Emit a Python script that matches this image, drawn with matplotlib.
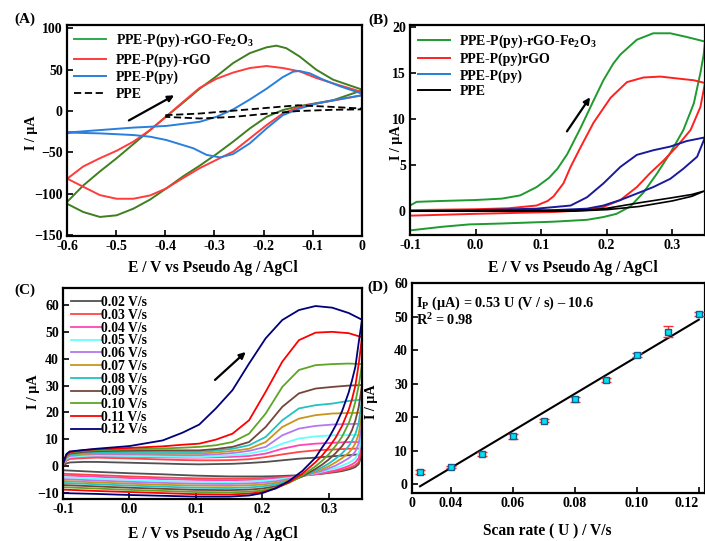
import numpy as np
import matplotlib
matplotlib.use('Agg')
import matplotlib.pyplot as plt
from matplotlib.lines import Line2D

plt.rcParams['font.family'] = 'serif'
plt.rcParams['font.serif'] = ['Liberation Serif', 'DejaVu Serif']
plt.rcParams['font.weight'] = 'bold'
plt.rcParams['axes.labelweight'] = 'bold'
plt.rcParams['mathtext.fontset'] = 'custom'
plt.rcParams['mathtext.rm'] = 'Liberation Serif:bold'
plt.rcParams['mathtext.bf'] = 'Liberation Serif:bold'
plt.rcParams['mathtext.it'] = 'Liberation Serif:bold:italic'

# ---------------- (A) CV, -0.6 .. 0 V ----------------
a_green_fwd_E = [-0.6, -0.567, -0.533, -0.499, -0.465, -0.431, -0.398, -0.364, -0.33, -0.296,
                 -0.262, -0.228, -0.194, -0.174, -0.154, -0.127, -0.093, -0.059, -0.025, 0.0]
a_green_fwd_I = [-110, -90, -73, -57, -40, -23, -6.5, 10, 27, 42,
                 58, 70, 77, 79, 76, 66, 50, 38, 31, 26]
a_green_rev_E = [0.0, -0.059, -0.127, -0.161, -0.194, -0.228, -0.262, -0.296, -0.33, -0.364,
                 -0.398, -0.431, -0.465, -0.499, -0.533, -0.567, -0.6]
a_green_rev_I = [25, 13, 6, 1.2, -7, -21, -37, -52, -66, -79,
                 -93.5, -107, -118, -126, -128, -122, -112]

a_red_fwd_E = [-0.6, -0.567, -0.533, -0.499, -0.465, -0.431, -0.398, -0.364, -0.33, -0.296,
               -0.262, -0.228, -0.194, -0.161, -0.127, -0.093, -0.059, -0.025, 0.0]
a_red_fwd_I = [-82, -67, -57, -48, -37, -23, -6.5, 11, 28, 39,
               46.5, 52, 54.4, 52, 48, 40, 33.5, 27.5, 23]
a_red_rev_E = [0.0, -0.093, -0.127, -0.161, -0.194, -0.228, -0.262, -0.296, -0.33, -0.364,
               -0.398, -0.431, -0.465, -0.499, -0.533, -0.567, -0.6]
a_red_rev_I = [19, 9, 5, -3, -17, -33, -49, -59, -69, -81,
               -93.5, -102, -106, -106, -101.6, -91.5, -81.5]

a_blue_fwd_E = [-0.6, -0.533, -0.465, -0.398, -0.33, -0.296, -0.262, -0.228, -0.194, -0.161,
                -0.140, -0.127, -0.106, -0.079, -0.045, 0.0]
a_blue_fwd_I = [-26, -23, -20, -18, -13, -7, 2, 14, 27, 41,
                47.6, 48.4, 45.6, 38, 30, 21]
a_blue_rev_E = [0.0, -0.059, -0.093, -0.127, -0.161, -0.194, -0.228, -0.262, -0.289, -0.316,
                -0.343, -0.398, -0.431, -0.465, -0.533, -0.6]
a_blue_rev_I = [19, 13, 9, 3, -5, -21, -39, -52, -56, -53,
                -45, -35, -31, -29, -27, -26]

a_ppe_E = [-0.4, -0.33, -0.26, -0.19, -0.13, -0.06, 0.0, 0.0, -0.06, -0.13, -0.19, -0.26, -0.33, -0.4]
a_ppe_I = [-5, -3, 0.5, 4, 7, 5, 3, 2, 1.5, 0, -3, -7, -9, -7]

a_arrow = [(-0.479, -13), (-0.377, 20.6)]

# ---------------- (B) CV, -0.1 .. 0.35 V ----------------
b_green_E = [-0.1, -0.09, -0.05, 0.0, 0.04, 0.068, 0.093, 0.112, 0.125, 0.14,
             0.16, 0.18, 0.195, 0.21, 0.221, 0.246, 0.271, 0.297, 0.322, 0.35,
             0.348, 0.343, 0.333, 0.317, 0.297, 0.277, 0.256, 0.236, 0.215, 0.195,
             0.17, 0.12, 0.04, -0.01, -0.05, -0.1]
b_green_I = [0.6, 1.0, 1.1, 1.2, 1.35, 1.7, 2.6, 3.6, 4.6, 6.2,
             9.0, 12.0, 14.2, 16.0, 17.0, 18.6, 19.3, 19.3, 18.9, 18.4,
             17.0, 15.0, 11.7, 8.8, 6.3, 4.1, 2.0, 0.5, -0.3, -0.65,
             -0.95, -1.15, -1.35, -1.45, -1.7, -2.1]

b_red_E = [-0.1, -0.05, 0.0, 0.05, 0.093, 0.11, 0.119, 0.134, 0.145, 0.16,
           0.18, 0.206, 0.231, 0.256, 0.282, 0.307, 0.333, 0.35,
           0.343, 0.328, 0.307, 0.287, 0.266, 0.246, 0.221, 0.195, 0.17, 0.12,
           0.0, -0.1]
b_red_I = [0.1, 0.15, 0.2, 0.3, 0.6, 1.1, 1.6, 3.0, 4.8, 6.9,
           9.6, 12.3, 14.0, 14.5, 14.6, 14.4, 14.2, 13.9,
           11.3, 8.8, 7.0, 5.5, 4.1, 2.6, 1.2, 0.45, 0.1, -0.1,
           -0.3, -0.5]

b_blue_E = [-0.1, 0.0, 0.093, 0.145, 0.17, 0.195, 0.221, 0.246, 0.271, 0.297, 0.322, 0.35,
            0.338, 0.317, 0.297, 0.271, 0.246, 0.221, 0.195, 0.17, 0.119, 0.0, -0.1]
b_blue_I = [0.0, 0.1, 0.26, 0.6, 1.5, 3.0, 4.8, 6.1, 6.6, 7.0, 7.6, 8.0,
            5.9, 4.6, 3.5, 2.6, 1.9, 1.2, 0.6, 0.26, 0.1, 0.0, 0.0]

b_ppe_E = [-0.1, 0.1, 0.17, 0.2, 0.25, 0.3, 0.33, 0.35, 0.33, 0.3, 0.25, 0.2, 0.15, -0.1]
b_ppe_I = [0.0, 0.05, 0.1, 0.3, 0.9, 1.45, 1.8, 2.2, 1.6, 1.1, 0.5, 0.15, 0.0, 0.0]

b_arrow = [(0.137, 8.4), (0.177, 12.6)]

# ---------------- (C) scan-rate CVs ----------------
c_rates = ['0.02 V/s', '0.03 V/s', '0.04 V/s', '0.05 V/s', '0.06 V/s', '0.07 V/s',
           '0.08 V/s', '0.09 V/s', '0.10 V/s', '0.11 V/s', '0.12 V/s']
c_colors = ['#505050', '#ff4545', '#ff45b5', '#66ffff', '#b478f0', '#c8961a',
            '#22c2c2', '#74463a', '#5ea524', '#ff0000', '#00007a']

c_E_fwd = [-0.1, -0.095, -0.09, -0.07, -0.05, 0.0, 0.05, 0.08, 0.105, 0.13,
           0.155, 0.18, 0.205, 0.23, 0.255, 0.28, 0.305, 0.33, 0.35]
c_E_rev = [0.35, 0.345, 0.34, 0.335, 0.33, 0.32, 0.31, 0.30, 0.29, 0.28,
           0.26, 0.24, 0.22, 0.20, 0.18, 0.15, 0.10, 0.05, 0.0, -0.05, -0.1]

c_I_fwd = [
    [0.3, 1.0, 1.4, 1.6, 1.6, 1.3, 1.0, 0.8, 0.7, 0.8, 0.9, 1.2, 1.6, 2.2, 2.8, 3.2, 3.7, 4.1, 4.5],
    [0.5, 2.0, 2.7, 3.0, 3.2, 2.9, 2.5, 2.3, 2.2, 2.2, 2.3, 2.6, 3.4, 4.4, 5.3, 5.9, 6.2, 6.5, 6.6],
    [0.6, 2.4, 3.1, 3.5, 3.7, 3.5, 3.3, 3.2, 3.2, 3.3, 3.5, 3.8, 4.7, 6.5, 7.8, 8.4, 8.7, 9.0, 9.0],
    [0.7, 2.7, 3.4, 3.8, 4.0, 3.8, 3.6, 3.5, 3.4, 3.7, 4.1, 4.7, 5.9, 8.4, 10.3, 11.1, 11.5, 11.6, 11.7],
    [0.8, 3.0, 3.8, 4.3, 4.5, 4.4, 4.2, 4.1, 4.1, 4.4, 4.9, 5.7, 7.2, 11.5, 14.0, 15.0, 15.5, 15.7, 15.8],
    [1.0, 3.3, 4.1, 4.6, 4.8, 4.8, 4.7, 4.7, 4.7, 5.1, 5.7, 6.5, 9.0, 14.6, 17.7, 19.0, 19.6, 19.8, 19.9],
    [1.0, 3.5, 4.4, 4.9, 5.2, 5.3, 5.3, 5.3, 5.3, 5.8, 6.5, 7.8, 10.9, 17.1, 21.5, 22.7, 23.3, 24.3, 24.8],
    [1.0, 3.8, 4.7, 5.3, 5.6, 5.8, 5.9, 5.9, 5.9, 6.4, 7.2, 9.0, 14.6, 22.1, 27.1, 28.9, 29.5, 30.0, 30.2],
    [1.0, 4.0, 5.0, 5.7, 6.0, 6.3, 6.6, 6.9, 7.2, 7.8, 9.0, 12.1, 19.6, 29.5, 35.8, 37.6, 38.0, 38.2, 38.0],
    [1.0, 4.2, 5.2, 6.0, 6.3, 6.8, 7.4, 8.0, 8.4, 9.9, 12.1, 17.1, 27.7, 38.9, 46.9, 49.7, 50.0, 49.5, 48.0],
    [1.0, 4.5, 5.5, 6.0, 6.5, 7.5, 9.6, 12.5, 15.5, 21.5, 28.3, 38.2, 47.6, 54.4, 58.1, 59.6, 59.0, 57.0, 54.5],
]
c_I_rev = [
    [4.5, 0.8, -0.3, -0.8, -1.2, -1.8, -2.2, -2.5, -2.8, -3.0, -3.3, -3.5, -3.7, -3.8, -3.8, -3.8, -3.5, -3.0, -2.6, -2.1, -1.5],
    [6.6, 1.5, 0.4, -0.2, -0.7, -1.4, -1.9, -2.3, -2.7, -3.0, -3.5, -3.9, -4.2, -4.4, -4.5, -4.6, -4.5, -4.2, -3.8, -3.3, -2.8],
    [9.0, 3.0, 1.5, 0.7, 0.1, -0.8, -1.5, -2.0, -2.5, -2.9, -3.6, -4.2, -4.6, -4.9, -5.1, -5.2, -5.1, -4.8, -4.4, -3.9, -3.4],
    [11.7, 5.0, 3.0, 2.0, 1.3, 0.2, -0.7, -1.4, -2.0, -2.6, -3.6, -4.4, -5.0, -5.4, -5.7, -5.9, -5.8, -5.5, -5.1, -4.6, -4.1],
    [15.8, 8.5, 5.5, 4.0, 3.0, 1.5, 0.2, -0.8, -1.7, -2.4, -3.7, -4.8, -5.6, -6.1, -6.4, -6.6, -6.5, -6.2, -5.8, -5.3, -4.8],
    [19.9, 12.0, 8.5, 6.5, 5.0, 3.0, 1.4, 0.0, -1.1, -2.0, -3.8, -5.2, -6.2, -6.8, -7.1, -7.3, -7.2, -6.9, -6.5, -6.0, -5.5],
    [24.8, 16.0, 12.0, 9.5, 7.5, 4.8, 2.8, 1.0, -0.4, -1.6, -3.8, -5.6, -6.8, -7.5, -7.9, -8.1, -8.0, -7.6, -7.2, -6.7, -6.2],
    [30.2, 22.0, 17.0, 13.5, 11.0, 7.5, 4.8, 2.5, 0.6, -1.0, -3.8, -6.0, -7.5, -8.3, -8.7, -8.9, -8.8, -8.4, -8.0, -7.5, -7.0],
    [38.0, 30.0, 24.0, 19.5, 16.0, 11.0, 7.5, 4.5, 2.0, 0.0, -3.5, -6.2, -8.0, -9.0, -9.5, -9.7, -9.6, -9.2, -8.8, -8.3, -7.8],
    [48.0, 38.0, 30.0, 25.0, 21.0, 15.0, 10.5, 7.0, 4.0, 1.5, -2.8, -6.0, -8.3, -9.6, -10.2, -10.5, -10.4, -10.0, -9.6, -9.2, -8.7],
    [54.5, 46.0, 37.0, 32.0, 27.5, 20.5, 15.0, 10.5, 7.0, 3.2, -1.8, -5.5, -8.2, -10.0, -10.9, -11.3, -11.3, -11.0, -10.7, -10.3, -10.0],
]
c_arrow = [(0.1256, 31.4), (0.178, 43.2)]

# ---------------- (D) peak current vs scan rate ----------------
scan_rate = [0.03, 0.04, 0.05, 0.06, 0.07, 0.08, 0.09, 0.10, 0.11, 0.12]
peak_current = [3.6, 5.1, 9.0, 14.2, 18.9, 25.3, 31.2, 38.5, 45.5, 50.9]
peak_err = [0.5, 0.4, 0.5, 0.6, 0.5, 0.8, 0.6, 0.6, 1.6, 0.6]

XLAB = 'E / V vs Pseudo Ag / AgCl'
YLAB = 'I / μA'
TICK_FS = 10
LAB_FS = 11.2
YLAB_FS = 10.2
LEG_FS = 10


def style_axes(ax):
    for s in ax.spines.values():
        s.set_linewidth(1.6)
    ax.tick_params(direction='in', length=4, width=1.2, labelsize=TICK_FS, pad=3)


def draw_arrow(ax, pts):
    ax.annotate('', xy=pts[1], xytext=pts[0],
                arrowprops=dict(arrowstyle='-|>', color='black', lw=1.6, mutation_scale=9))


def panel_a(ax):
    ax.plot(a_green_fwd_E + a_green_rev_E, a_green_fwd_I + a_green_rev_I, color='#3f7f1f', lw=1.4)
    ax.plot(a_red_fwd_E + a_red_rev_E, a_red_fwd_I + a_red_rev_I, color='#ff3b3b', lw=1.4)
    ax.plot(a_blue_fwd_E + a_blue_rev_E, a_blue_fwd_I + a_blue_rev_I, color='#2a7fdc', lw=1.4)
    ax.plot(a_ppe_E, a_ppe_I, color='black', lw=1.3, ls=(0, (4, 2)))
    draw_arrow(ax, a_arrow)
    ax.set_xlim(-0.6, 0.0)
    ax.set_ylim(-151, 104)
    ax.set_xticks([-0.6, -0.5, -0.4, -0.3, -0.2, -0.1, 0.0])
    ax.set_xticklabels(['-0.6', '-0.5', '-0.4', '-0.3', '-0.2', '-0.1', '0'])
    ax.set_yticks([-150, -100, -50, 0, 50, 100])
    handles = [Line2D([], [], color='#2eaa4a', lw=1.4),
               Line2D([], [], color='#ff3b3b', lw=1.4),
               Line2D([], [], color='#2a7fdc', lw=1.4),
               Line2D([], [], color='black', lw=1.3, ls=(0, (4, 2)))]
    labels = ['PPE-P(py)-rGO-Fe$_\\mathbf{2}$O$_\\mathbf{3}$', 'PPE-P(py)-rGO', 'PPE-P(py)', 'PPE']
    ax.legend(handles, labels, loc='upper left', frameon=False, fontsize=LEG_FS,
              handlelength=2.3, handletextpad=0.7, labelspacing=0.28, borderaxespad=0.2,
              borderpad=0.3)
    ax.set_xlabel(XLAB, fontsize=LAB_FS)
    ax.set_ylabel(YLAB, fontsize=YLAB_FS)
    ax.xaxis.set_label_coords(0.495, -0.116)
    ax.yaxis.set_label_coords(-0.098, 0.49)


def panel_b(ax):
    ax.plot(b_green_E, b_green_I, color='#1e9a2e', lw=1.4)
    ax.plot(b_red_E, b_red_I, color='#ff2020', lw=1.4)
    ax.plot(b_blue_E, b_blue_I, color='#1a1a9a', lw=1.4)
    ax.plot(b_ppe_E, b_ppe_I, color='black', lw=1.2)
    draw_arrow(ax, b_arrow)
    ax.set_xlim(-0.1, 0.35)
    ax.set_ylim(-2.6, 20.2)
    ax.set_xticks([-0.1, 0.0, 0.1, 0.2, 0.3])
    ax.set_xticklabels(['-0.1', '0.0', '0.1', '0.2', '0.3'])
    ax.set_yticks([0, 5, 10, 15, 20])
    handles = [Line2D([], [], color='#1e9a2e', lw=1.4),
               Line2D([], [], color='#ff2020', lw=1.4),
               Line2D([], [], color='#1f7fd8', lw=1.4),
               Line2D([], [], color='black', lw=1.4)]
    labels = ['PPE-P(py)-rGO-Fe$_\\mathbf{2}$O$_\\mathbf{3}$', 'PPE-P(py)rGO', 'PPE-P(py)', 'PPE']
    ax.legend(handles, labels, loc='upper left', frameon=False, fontsize=LEG_FS,
              handlelength=2.3, handletextpad=0.7, labelspacing=0.2, borderaxespad=0.2,
              borderpad=0.35)
    ax.set_xlabel(XLAB, fontsize=LAB_FS)
    ax.set_ylabel(YLAB, fontsize=YLAB_FS)
    ax.xaxis.set_label_coords(0.553, -0.121)
    ax.yaxis.set_label_coords(-0.025, 0.438)


def panel_c(ax):
    for lab, col, fwd, rev in zip(c_rates, c_colors, c_I_fwd, c_I_rev):
        ax.plot(c_E_fwd + c_E_rev, fwd + rev, color=col, lw=1.3, label=lab)
    draw_arrow(ax, c_arrow)
    ax.set_xlim(-0.1, 0.35)
    ax.set_ylim(-12.2, 66.3)
    ax.set_xticks([-0.1, 0.0, 0.1, 0.2, 0.3])
    ax.set_xticklabels(['-0.1', '0.0', '0.1', '0.2', '0.3'])
    ax.set_yticks([-10, 0, 10, 20, 30, 40, 50, 60])
    ax.legend(loc='upper left', frameon=False, fontsize=9.8, handlelength=2.2,
              handletextpad=0.0, labelspacing=-0.02, borderaxespad=0.3, borderpad=0.3)
    ax.set_xlabel(XLAB, fontsize=LAB_FS)
    ax.set_ylabel(YLAB, fontsize=YLAB_FS)
    ax.xaxis.set_label_coords(0.50, -0.127)
    ax.yaxis.set_label_coords(-0.077, 0.51)


def panel_d(ax):
    x = np.array(scan_rate)
    y = np.array(peak_current)
    slope, icpt = np.polyfit(x, y, 1)
    ax.plot(x, slope * x + icpt, color='black', lw=1.5, zorder=2)
    ax.errorbar(x, y, yerr=peak_err, fmt='s', ms=4.5, mfc='#00e4f0', mec='#1a5a90', mew=1.0,
                ecolor='#ff2a2a', elinewidth=1.0, capsize=3.5, capthick=1.0, zorder=3)
    ax.set_xlim(0.0274, 0.122)
    ax.set_ylim(-2.7, 60.1)
    ax.set_xticks([0.0274, 0.04, 0.06, 0.08, 0.10, 0.12])
    ax.set_xticklabels(['0', '0.04', '0.06', '0.08', '0.10', '0.12'])
    ax.get_xticklabels()[-1].set_horizontalalignment('right')
    ax.set_yticks([0, 10, 20, 30, 40, 50, 60])
    ax.text(0.012, 0.905, 'I$_\\mathbf{P}$ (μA) = 0.53 U (V / s) – 10.6', transform=ax.transAxes,
            fontsize=10.3, va='center', ha='left')
    ax.text(0.012, 0.824, 'R$^\\mathbf{2}$ = 0.98', transform=ax.transAxes,
            fontsize=10.3, va='center', ha='left')
    ax.set_xlabel('Scan rate ( U ) / V/s', fontsize=LAB_FS)
    ax.set_ylabel(YLAB, fontsize=YLAB_FS)
    ax.xaxis.set_label_coords(0.46, -0.145)
    ax.yaxis.set_label_coords(-0.115, 0.435)


def main():
    fig = plt.figure(figsize=(7.05, 5.41), dpi=100)
    ax_a = fig.add_axes([0.0950, 0.5638, 0.4184, 0.3900])
    ax_b = fig.add_axes([0.5816, 0.5656, 0.4184, 0.3882])
    ax_c = fig.add_axes([0.0894, 0.0776, 0.4241, 0.3900])
    ax_d = fig.add_axes([0.5844, 0.0887, 0.4156, 0.3882])

    for ax in (ax_a, ax_b, ax_c, ax_d):
        style_axes(ax)

    panel_a(ax_a)
    panel_b(ax_b)
    panel_c(ax_c)
    panel_d(ax_d)

    # panel letters
    for lab, (px, py) in zip(['(A)', '(B)', '(C)', '(D)'],
                             [(25, 19), (378, 20), (25, 290), (378, 287)]):
        fig.text(px / 705, 1 - py / 541, lab, fontsize=11, ha='center', va='center')

    fig.savefig('out.png', dpi=100)


if __name__ == "__main__":
    main()
